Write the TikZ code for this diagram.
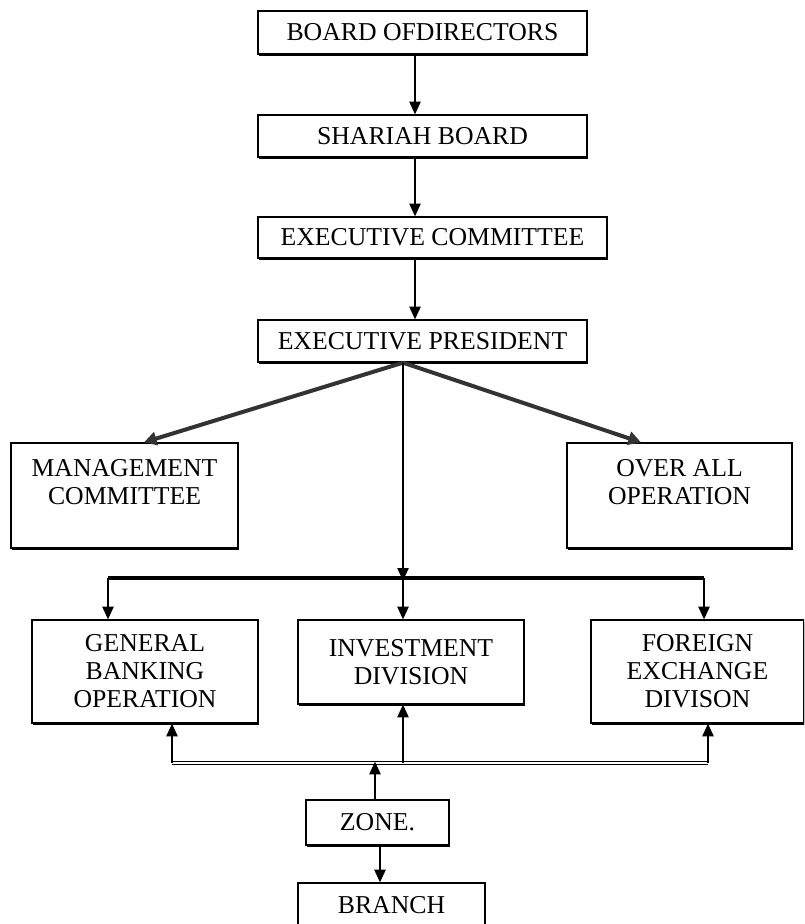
\documentclass[tikz,border=0pt]{standalone}
\usepackage{fontspec}
\setmainfont{Liberation Serif}
\usetikzlibrary{arrows.meta,shadows}

\tikzset{
  box/.style={draw, line width=1pt, fill=white, inner sep=0pt, align=center,
    font=\fontsize{19.3}{21}\selectfont,
    general shadow={fill=black, shadow xshift=0.5pt, shadow yshift=-1.5pt}},
  sz/.style 2 args={minimum width=#1*0.75pt, minimum height=#2*0.75pt},
  arr/.style={line width=1pt, -{Triangle[length=9.5pt,width=8.5pt]}},
  fatarr/.style={line width=3pt, draw=black!80, -{Triangle[length=9.5pt,width=10pt]}},
  bus/.style={line width=2.8pt},
  lowbus/.style={line width=0.8pt, double, double distance=1.4pt}
}

\begin{document}
\begin{tikzpicture}[x=0.75pt,y=0.75pt,yscale=-1,xscale=1]
	\clip (0,0) rectangle (804,924);
	% chain at the top
	\node[box, sz={329}{43}] (bod) at (422.5,32.5) {BOARD OFDIRECTORS};
	\node[box, sz={329}{42}] (shariah) at (422.5,136) {SHARIAH BOARD};
	\node[box, sz={349}{41}] (execcom) at (432.5,237.5) {EXECUTIVE COMMITTEE};
	\node[box, sz={329}{42}] (execpres) at (422.5,341) {EXECUTIVE PRESIDENT};
	\coordinate (spine) at (415,0);
	\draw[arr] (bod.south -| spine) -- (shariah.north -| spine);
	\draw[arr] (shariah.south -| spine) -- (execcom.north -| spine);
	\draw[arr] (execcom.south -| spine) -- (execpres.north -| spine);
	% side boxes
	\node[box, sz={227}{105}] (mgmt) at (124.5,495.5) {MANAGEMENT\\COMMITTEE\\~};
	\node[box, sz={225}{105}] (overall) at (679.5,495.5) {OVER ALL\\OPERATION\\~};
	% divisions
	\node[box, sz={226}{103}] (genbank) at (145,671.5) {GENERAL\\BANKING\\OPERATION};
	\node[box, sz={226}{84}] (invest) at (411,662) {INVESTMENT\\DIVISION};
	\node[box, sz={213}{103}] (forex) at (697.5,671.5) {FOREIGN\\EXCHANGE\\DIVISON};
	% lower boxes
	\node[box, sz={143}{45}] (zone) at (377.5,822.5) {ZONE.};
	\node[box, sz={187}{45}] (branch) at (391.5,905.5) {BRANCH};
	% bus lines
	\coordinate (tbL) at (108,578);
	\coordinate (tbM) at (403,578);
	\coordinate (tbR) at (704,578);
	\coordinate (lbL) at (172,763);
	\coordinate (lbM) at (403,763);
	\coordinate (lbR) at (708,763);
	\draw[fatarr] (execpres.south -| tbM) -- ([xshift=14.6pt]mgmt.north);
	\draw[fatarr] (execpres.south -| tbM) -- ([xshift=-28.9pt]overall.north);
	\draw[arr] (execpres.south -| tbM) -- ([yshift=2pt]tbM);
	\draw[bus] (tbL) -- (tbR);
	\draw[arr] (tbL) -- (tbL |- genbank.north);
	\draw[arr] (tbM) -- (tbM |- invest.north);
	\draw[arr] (tbR) -- (tbR |- forex.north);
	\draw[lowbus] (lbL) -- (lbR);
	\draw[arr] (lbL) -- (lbL |- genbank.south);
	\draw[arr] (lbM) -- (lbM |- invest.south);
	\draw[arr] (lbR) -- (lbR |- forex.south);
	\draw[arr] (zone.north -| 375,0) -- ([yshift=-1pt]lbL -| 375,0);
	\draw[arr] (zone.south -| 380,0) -- (branch.north -| 380,0);
\end{tikzpicture}
\end{document}
